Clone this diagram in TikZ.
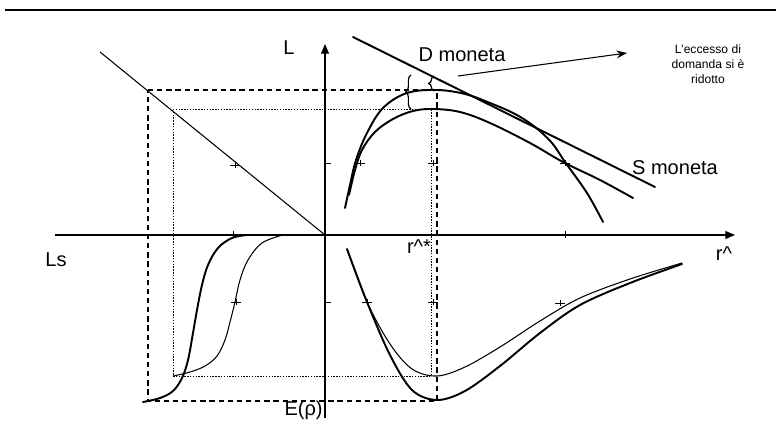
\documentclass[tikz,border=0pt]{standalone}
\usepackage{fontspec}
\setmainfont{Liberation Sans}
\usetikzlibrary{arrows.meta,decorations.pathreplacing}

\begin{document}
\begin{tikzpicture}[
    x=0.02cm, y=-0.02cm,
    lbl/.style={inner sep=0pt,font=\fontsize{11.4}{13}\selectfont},
    note/.style={inner sep=0pt,align=center,font=\fontsize{6.9}{8.6}\selectfont},
    axis/.style={line width=0.6pt,-{Triangle[length=5.5pt,width=4.5pt]}},
    thinline/.style={line width=0.6pt},
    curve/.style={line width=1.1pt,line cap=round},
    thincurve/.style={line width=0.6pt},
    dsh/.style={line width=0.9pt,dash pattern=on 3pt off 2.2pt},
    dtt/.style={line width=0.5pt,dash pattern=on 0.8pt off 0.8pt},
    tk/.style={line width=0.4pt},
    brc/.style={decorate,decoration={brace,amplitude=3pt},line width=0.7pt},
  ]
  \useasboundingbox (0,0) rectangle (776,425);
  \coordinate (O) at (325,235);
  \coordinate (Ltop) at (325,44);  \coordinate (Lbot) at (325,418);
  \coordinate (Xl) at (55,235);    \coordinate (Xr) at (735,235);
  \coordinate (diag) at (100,52);
  \coordinate (A1) at (148,90);  \coordinate (A2) at (437,90);
  \coordinate (A3) at (437,401); \coordinate (A4) at (148,401);
  \coordinate (B1) at (173,109); \coordinate (B2) at (431,109);
  \coordinate (B3) at (431,376); \coordinate (B4) at (173,376);
  \coordinate (Dtop) at (353,37); \coordinate (Dbot) at (655,187);
  \coordinate (from) at (458,76); \coordinate (to) at (627,53);

  \draw[line width=1.1pt] (5,10) -- (776,10);
  \draw[axis] (Lbot) -- (Ltop);
  \draw[axis] (Xl) -- (Xr);
  \draw[thinline] (diag) -- (O);
  \draw[dsh] (A1) -- (A2) -- (A3) -- (A4) -- cycle;
  \draw[dtt] (B1) -- (B2) -- (B3) -- (B4) -- cycle;

  \draw[curve] (Dtop) -- (Dbot);
  \draw[curve] plot[smooth,tension=0.6] coordinates {(345,208) (350,185) (356,160) (367,133) (383,108) (407,93) (437,90) (465,94) (490,103) (515,114) (535,127) (552,143) (565,162) (587,193) (603,222)};
  \draw[curve] plot[smooth,tension=0.6] coordinates {(349,195) (355,170) (362,150) (375,132) (393,119) (413,111) (433,109) (460,112) (490,123) (530,143) (563,162) (600,180) (633,198)};

  \draw[curve] plot[smooth,tension=0.55] coordinates {(347,249) (367,302) (390,355) (412,390) (437,400) (465,391) (500,366) (540,333) (580,305) (630,283) (682,264)};
  \draw[thincurve] plot[smooth,tension=0.55] coordinates {(347,249) (367,302) (390,344) (412,369) (437,376) (465,367) (500,347) (540,321) (580,298) (630,279) (682,263)};

  \draw[curve] plot[smooth,tension=0.6] coordinates {(143,402) (160,398) (173,391) (182,378) (188,360) (193,333) (197,310) (202,285) (208,265) (218,248) (232,238) (247,235)};
  \draw[thincurve] plot[smooth,tension=0.6] coordinates {(173,376) (190,372) (205,366) (217,356) (225,340) (230,322) (235,302) (240,280) (248,260) (262,243) (283,235)};

  \draw[brc] (411,109) -- (411,75);
  \draw[brc] (434,91) -- (434,76);

  \foreach \x/\y in {235/165,360/163,433/163,565/163,236/302,367/302,433/302,560/303}
    \draw[tk] (\x-5,\y) -- (\x+5,\y) (\x,\y-3) -- (\x,\y+3);
  \foreach \y in {163,302} \draw[tk] (325,\y) -- (331,\y);
  \foreach \x in {233,565} \draw[tk] (\x,231) -- (\x,238);

  \node[lbl] (L) at (289,48) {L};
  \node[lbl] (Dm) at (462,55) {D moneta};
  \node[lbl] (Sm) at (675,168) {S moneta};
  \node[lbl] (Ls) at (56,260) {Ls};
  \node[lbl] (rr) at (724,254) {r\textasciicircum};
  \node[lbl] (rs) at (419,247) {r\textasciicircum*};
  \node[lbl,anchor=east] (E) at (323,410) {E(ρ)};
  \node[note] (exc) at (708,64) {L'eccesso di\\domanda si è\\ridotto};
  \draw[thinline,-{Stealth[length=6pt,width=4.5pt]}] (from) -- (to);
\end{tikzpicture}
\end{document}
